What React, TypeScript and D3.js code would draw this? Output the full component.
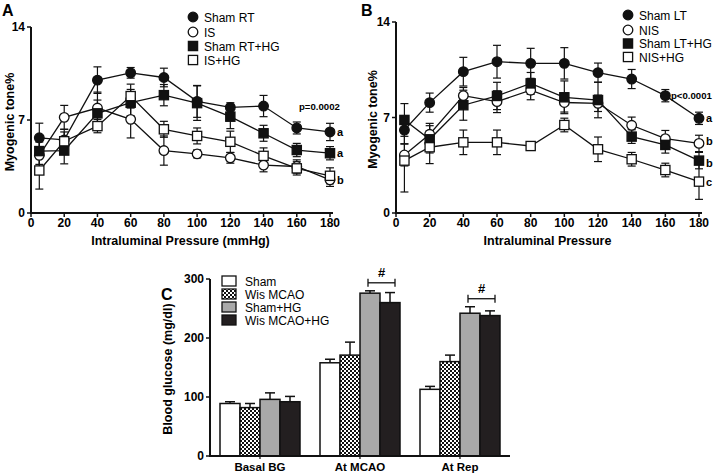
import * as d3 from "d3";
import React from "react";

// shared x values (mmHg)
const pressures = [5, 20, 40, 60, 80, 100, 120, 140, 160, 180];
const xTicks = [0, 20, 40, 60, 80, 100, 120, 140, 160, 180];
const yTicksTone = [0, 7, 14];

// Panel A
const shamRT = [5.66, 5.5, 10.0, 10.55, 10.2, 8.4, 7.95, 8.05, 6.4, 6.1];
const shamRTErr = [1.1, 0.6, 1.0, 0.4, 0.7, 1.2, 0.35, 0.8, 0.45, 0.65];
const isVals = [4.34, 7.2, 7.9, 7.05, 4.7, 4.45, 4.15, 3.6, 3.5, 2.5];
const isErr = [1.0, 0.9, 1.2, 1.4, 1.1, 0.3, 0.4, 0.5, 0.5, 0.5];
const shamRTHG = [4.66, 4.7, 7.5, 8.3, 8.87, 8.27, 7.25, 6.0, 4.74, 4.5];
const shamRTHGErr = [1.0, 1.0, 1.0, 1.0, 0.8, 1.3, 0.9, 0.6, 0.5, 0.5];
const isHG = [3.2, 5.4, 6.54, 8.8, 6.3, 5.8, 5.36, 4.3, 3.36, 2.8];
const isHGErr = [1.4, 0.9, 0.5, 0.9, 0.6, 0.6, 0.8, 0.6, 0.5, 0.6];

// Panel B
const shamLT = [6.08, 8.09, 10.36, 11.09, 10.97, 10.97, 10.29, 9.82, 8.6, 6.94];
const shamLTErr = [1.0, 0.7, 1.05, 1.2, 1.1, 1.15, 0.7, 0.7, 0.45, 0.45];
const nis = [4.25, 5.77, 8.6, 8.16, 9.0, 8.1, 8.04, 6.43, 5.45, 5.1];
const nisErr = [0.8, 0.8, 0.6, 0.8, 0.7, 0.7, 0.6, 0.6, 0.6, 0.6];
const shamLTHG = [6.82, 5.4, 7.9, 8.58, 9.5, 8.48, 8.28, 5.6, 4.99, 3.84];
const shamLTHGErr = [1.2, 1.0, 1.1, 1.0, 0.8, 1.2, 1.3, 0.5, 0.6, 0.6];
const nisHG = [3.84, 4.82, 5.18, 5.18, 4.91, 6.45, 4.67, 3.94, 3.15, 2.3];
const nisHGErr = [2.3, 1.2, 0.9, 0.9, 0.3, 0.5, 0.9, 0.5, 0.5, 1.3];

// Panel C
const timepoints = ["Basal BG", "At MCAO", "At Rep"];
const groupNames = ["Sham", "Wis MCAO", "Sham+HG", "Wis MCAO+HG"];
const shamBG = [89, 158, 113];
const shamBGErr = [3, 6, 5];
const wisBG = [82, 171, 160];
const wisBGErr = [7, 22, 11];
const shamHGBG = [96, 276, 242];
const shamHGBGErr = [11, 4, 11];
const wisHGBG = [92, 260, 238];
const wisHGBGErr = [9, 17, 8];
const yTicksBG = [0, 100, 200, 300];

const FONT = "'Liberation Sans', Arial, Helvetica, sans-serif";

type Marker = "filledCircle" | "openCircle" | "filledSquare" | "openSquare";

function MarkerShape({ kind, x, y }: { kind: Marker; x: number; y: number }) {
  const fill = kind.startsWith("filled") ? "#111" : "#fff";
  if (kind.endsWith("Circle"))
    return <circle cx={x} cy={y} r={4.8} fill={fill} stroke="#111" strokeWidth={1.3} />;
  return <rect x={x - 4.6} y={y - 4.6} width={9.2} height={9.2} fill={fill} stroke="#111" strokeWidth={1.3} />;
}

type Series = { name: string; vals: number[]; err: number[]; marker: Marker };

function LinePanel({
  x,
  y,
  series,
  xTitle,
  letter,
  letterX,
  yTitleX,
  legendX,
  legendY,
  pText,
  pX,
  pY,
  endLabels,
}: {
  x: d3.ScaleLinear<number, number>;
  y: d3.ScaleLinear<number, number>;
  series: Series[];
  xTitle: string;
  letter: string;
  letterX: number;
  yTitleX: number;
  legendX: number;
  legendY: number[];
  pText: string;
  pX: number;
  pY: number;
  endLabels: { text: string; dy: number; v: number }[];
}) {
  const [x0] = x.range();
  const [yb, yt] = y.range();
  const line = d3
    .line<number>()
    .x((_, i) => x(pressures[i]))
    .y((d) => y(d));
  return (
    <g>
      <text x={letterX} y={16} fontSize={16} fontWeight="bold" fontFamily={FONT}>
        {letter}
      </text>
      {/* axes */}
      <line x1={x0} x2={x0} y1={yb + 1} y2={yt} stroke="#111" strokeWidth={2} />
      <line x1={x0 - 1} x2={x(180) + 3} y1={yb} y2={yb} stroke="#111" strokeWidth={2} />
      {yTicksTone.map((t) => (
        <g key={t}>
          <line x1={x0 - 4} x2={x0} y1={y(t)} y2={y(t)} stroke="#111" strokeWidth={1.5} />
          <text x={x0 - 6} y={y(t) + 4} textAnchor="end" fontSize={12} fontWeight="bold" fontFamily={FONT}>
            {t}
          </text>
        </g>
      ))}
      {xTicks.map((t) => (
        <g key={t}>
          <line x1={x(t)} x2={x(t)} y1={yb} y2={yb + 4} stroke="#111" strokeWidth={1.5} />
          <text x={x(t)} y={yb + 14} textAnchor="middle" fontSize={12} fontWeight="bold" fontFamily={FONT}>
            {t}
          </text>
        </g>
      ))}
      <text x={(x0 + x(180)) / 2} y={yb + 32} textAnchor="middle" fontSize={12.5} fontWeight="bold" fontFamily={FONT}>
        {xTitle}
      </text>
      <text
        transform={`translate(${yTitleX}, ${(yb + yt) / 2 + 2}) rotate(-90)`}
        textAnchor="middle"
        fontSize={12.5}
        fontWeight="bold"
        fontFamily={FONT}
      >
        Myogenic tone%
      </text>
      {/* error bars */}
      {series.map((s) =>
        s.vals.map((v, i) => {
          const cx = x(pressures[i]);
          return (
            <g key={s.name + i} stroke="#111" strokeWidth={1.2}>
              <line x1={cx} x2={cx} y1={y(v - s.err[i])} y2={y(v + s.err[i])} />
              <line x1={cx - 4} x2={cx + 4} y1={y(v + s.err[i])} y2={y(v + s.err[i])} />
              <line x1={cx - 4} x2={cx + 4} y1={y(v - s.err[i])} y2={y(v - s.err[i])} />
            </g>
          );
        })
      )}
      {series.map((s) => (
        <path key={s.name} d={line(s.vals) || ""} fill="none" stroke="#111" strokeWidth={1.3} />
      ))}
      {series.map((s) =>
        s.vals.map((v, i) => <MarkerShape key={s.name + "m" + i} kind={s.marker} x={x(pressures[i])} y={y(v)} />)
      )}
      {/* legend */}
      {series.map((s, i) => (
        <g key={s.name + "leg"}>
          <MarkerShape kind={s.marker} x={legendX} y={legendY[i]} />
          <text x={legendX + 11} y={legendY[i] + 4.5} fontSize={12} fontFamily={FONT}>
            {s.name}
          </text>
        </g>
      ))}
      <text x={pX} y={pY} fontSize={9.6} fontWeight="bold" fontFamily={FONT}>
        {pText}
      </text>
      {endLabels.map((l, i) => (
        <text key={i} x={x(180) + 7} y={y(l.v) + l.dy} fontSize={11} fontWeight="bold" fontFamily={FONT}>
          {l.text}
        </text>
      ))}
    </g>
  );
}

function BarPanel() {
  const x = d3.scaleBand<string>().domain(timepoints).range([210, 510]).paddingInner(0.2).paddingOuter(0.1);
  const xs = d3.scaleBand<string>().domain(groupNames).range([0, x.bandwidth()]);
  const y = d3.scaleLinear().domain([0, 300]).range([456, 279]);
  const vals = [shamBG, wisBG, shamHGBG, wisHGBG];
  const errs = [shamBGErr, wisBGErr, shamHGBGErr, wisHGBGErr];
  const fills = ["#fff", "url(#checker)", "#a9a9a9", "#231f20"];
  const legendY = [281, 294, 307, 320];
  const bw = xs.bandwidth();
  return (
    <g>
      <defs>
        <pattern id="checker" width={4} height={4} patternUnits="userSpaceOnUse">
          <rect width={4} height={4} fill="#fff" />
          <rect width={2} height={2} fill="#111" />
          <rect x={2} y={2} width={2} height={2} fill="#111" />
        </pattern>
      </defs>
      <text x={161} y={300} fontSize={16} fontWeight="bold" fontFamily={FONT}>
        C
      </text>
      {timepoints.map((t, ti) =>
        groupNames.map((g, gi) => {
          const bx = (x(t) || 0) + (xs(g) || 0);
          const v = vals[gi][ti];
          const e = errs[gi][ti];
          const cx = bx + bw / 2;
          return (
            <g key={t + g}>
              <line x1={cx} x2={cx} y1={y(v)} y2={y(v + e)} stroke="#111" strokeWidth={1.5} />
              <line x1={cx - 5} x2={cx + 5} y1={y(v + e)} y2={y(v + e)} stroke="#111" strokeWidth={1.5} />
              <rect x={bx} y={y(v)} width={bw} height={y(0) - y(v)} fill={fills[gi]} stroke="#111" strokeWidth={1.5} />
            </g>
          );
        })
      )}
      {/* significance brackets */}
      {timepoints.slice(1).map((t, i) => {
        const b = (x(t) || 0) + (xs("Sham+HG") || 0) + bw / 2 - 2;
        const e = (x(t) || 0) + (xs("Wis MCAO+HG") || 0) + bw / 2 + 5;
        const top = Math.max(shamHGBG[i + 1] + shamHGBGErr[i + 1], wisHGBG[i + 1] + wisHGBGErr[i + 1]);
        const by = y(top) - 8;
        return (
          <g key={t + "sig"} stroke="#111" strokeWidth={1.3}>
            <line x1={b} x2={e} y1={by} y2={by} />
            <line x1={b} x2={b} y1={by - 4} y2={by + 4} />
            <line x1={e} x2={e} y1={by - 4} y2={by + 4} />
            <text
              x={(b + e) / 2}
              y={by - 6}
              textAnchor="middle"
              fontSize={13}
              fontWeight="bold"
              stroke="none"
              fontFamily={FONT}
            >
              #
            </text>
          </g>
        );
      })}
      {/* axes */}
      <line x1={210} x2={210} y1={y(0) + 1} y2={y(300)} stroke="#111" strokeWidth={2} />
      <line x1={209} x2={510} y1={y(0)} y2={y(0)} stroke="#111" strokeWidth={2} />
      {yTicksBG.map((t) => (
        <g key={t}>
          <line x1={206} x2={210} y1={y(t)} y2={y(t)} stroke="#111" strokeWidth={1.5} />
          <text x={204} y={y(t) + 4} textAnchor="end" fontSize={12} fontWeight="bold" fontFamily={FONT}>
            {t}
          </text>
        </g>
      ))}
      {timepoints.map((t) => {
        const cx = (x(t) || 0) + x.bandwidth() / 2;
        return (
          <g key={t + "tick"}>
            <line x1={cx} x2={cx} y1={y(0)} y2={y(0) + 3} stroke="#111" strokeWidth={1.2} />
            <text x={cx} y={y(0) + 15} textAnchor="middle" fontSize={11.5} fontWeight="bold" fontFamily={FONT}>
              {t}
            </text>
          </g>
        );
      })}
      <text
        transform={`translate(${172}, ${369}) rotate(-90)`}
        textAnchor="middle"
        fontSize={12.5}
        fontWeight="bold"
        fontFamily={FONT}
      >
        Blood glucose (mg/dl)
      </text>
      {groupNames.map((g, i) => (
        <g key={g + "leg"}>
          <rect x={222} y={legendY[i] - 5} width={14} height={10} fill={fills[i]} stroke="#111" strokeWidth={1.3} />
          <text x={245} y={legendY[i] + 4.5} fontSize={12} fontFamily={FONT}>
            {g}
          </text>
        </g>
      ))}
    </g>
  );
}

export default function App() {
  const xA = d3.scaleLinear().domain([0, 180]).range([31, 330]);
  const yA = d3.scaleLinear().domain([0, 14]).range([213, 27]);
  const xB = d3.scaleLinear().domain([0, 180]).range([396, 699]);
  const yB = d3.scaleLinear().domain([0, 14]).range([213, 22]);

  const seriesA: Series[] = [
    { name: "Sham RT", vals: shamRT, err: shamRTErr, marker: "filledCircle" },
    { name: "IS", vals: isVals, err: isErr, marker: "openCircle" },
    { name: "Sham RT+HG", vals: shamRTHG, err: shamRTHGErr, marker: "filledSquare" },
    { name: "IS+HG", vals: isHG, err: isHGErr, marker: "openSquare" },
  ];
  const seriesB: Series[] = [
    { name: "Sham LT", vals: shamLT, err: shamLTErr, marker: "filledCircle" },
    { name: "NIS", vals: nis, err: nisErr, marker: "openCircle" },
    { name: "Sham LT+HG", vals: shamLTHG, err: shamLTHGErr, marker: "filledSquare" },
    { name: "NIS+HG", vals: nisHG, err: nisHGErr, marker: "openSquare" },
  ];

  return (
    <div style={{ position: "absolute", left: 0, top: 0, background: "#fff" }}>
      <svg width={714} height={474} style={{ display: "block" }}>
        <rect width={714} height={474} fill="#fff" />
        <LinePanel
          x={xA}
          y={yA}
          series={seriesA}
          xTitle="Intraluminal Pressure (mmHg)"
          letter="A"
          letterX={2}
          yTitleX={14}
          legendX={193}
          legendY={[17, 32, 46, 60]}
          pText="p=0.0002"
          pX={299}
          pY={110}
          endLabels={[
            { text: "a", dy: 4, v: shamRT[9] },
            { text: "a", dy: 4, v: shamRTHG[9] },
            { text: "b", dy: 4, v: isVals[9] },
          ]}
        />
        <LinePanel
          x={xB}
          y={yB}
          series={seriesB}
          xTitle="Intraluminal Pressure"
          letter="B"
          letterX={361}
          yTitleX={377}
          legendX={628}
          legendY={[15, 30, 43.5, 57]}
          pText="p<0.0001"
          pX={671}
          pY={99}
          endLabels={[
            { text: "a", dy: 4, v: shamLT[9] },
            { text: "b", dy: 2, v: nis[9] },
            { text: "b", dy: 6, v: shamLTHG[9] },
            { text: "c", dy: 4, v: nisHG[9] },
          ]}
        />
        <BarPanel />
      </svg>
    </div>
  );
}
